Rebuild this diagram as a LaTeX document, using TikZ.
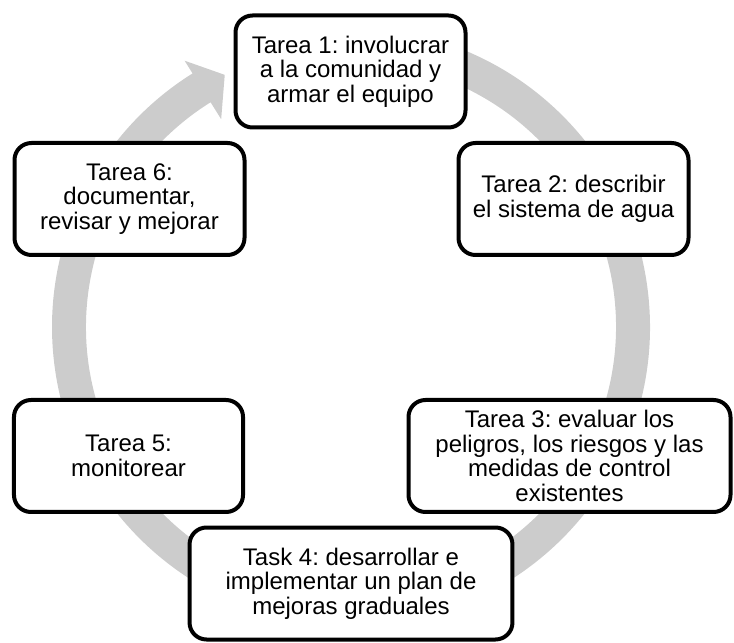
\documentclass[tikz,border=0pt]{standalone}
\usepackage{fontspec}
\setmainfont{Liberation Sans}
\usepackage{tikz}
\frenchspacing

\begin{document}
\begin{tikzpicture}[x=0.75pt, y=0.75pt, task/.style = {draw=black, fill=white,
	line width=3pt, rounded corners=12.75pt, minimum height=84pt, inner sep=0pt,
	align=center, font=\fontsize{18}{18.5}\selectfont}, ring/.style = {fill=black!20}]

	\useasboundingbox (0,0) rectangle (734,642);

	% Cycle arrow
	\fill[ring, shift={(351,315)}] (95:299) arc[start angle=95, end angle=-238, radius=299]
		-- (-238:314) -- (-243.4:282) -- (-238:245) -- (-238:265)
		arc[start angle=-238, end angle=95, radius=265] -- cycle;

	\node (t1) [task, minimum width=172.5pt] at (350.5, 570.5) {Tarea 1: involucrar\\a la comunidad y\\armar el equipo};
	\node (t2) [task, minimum width=172.5pt] at (573.5, 443.0) {Tarea 2: describir\\el sistema de agua};
	\node (t3) [task, minimum width=241.5pt] at (569.5, 186.0) {Tarea 3: evaluar los\\peligros, los riesgos y las\\medidas de control\\existentes};
	\node (t4) [task, minimum width=242.2pt] at (351.0,  58.5) {Task 4: desarrollar e\\implementar un plan de\\mejoras graduales};
	\node (t5) [task, minimum width=171.8pt] at (128.5, 186.0) {Tarea 5:\\monitorear};
	\node (t6) [task, minimum width=172.5pt] at (129.5, 443.0) {Tarea 6:\\documentar,\\revisar y mejorar};
\end{tikzpicture}
\end{document}
